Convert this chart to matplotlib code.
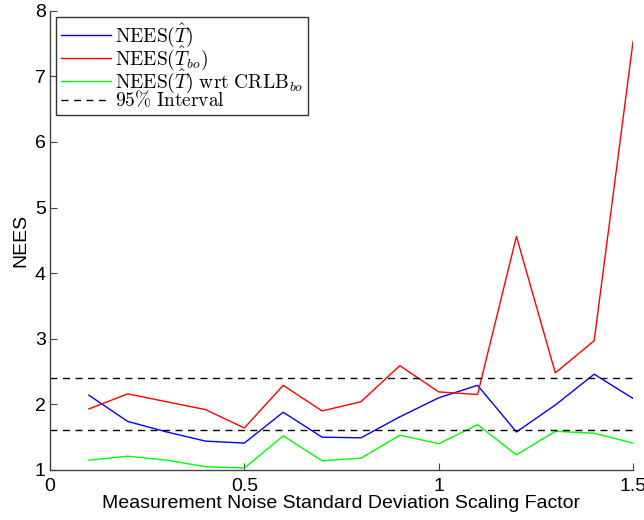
#!/usr/bin/env python3
"""NEES vs measurement noise scaling factor, with 95% interval bounds."""

import matplotlib
matplotlib.use("Agg")
import matplotlib.pyplot as plt

scale = [0.1, 0.2, 0.3, 0.4, 0.5, 0.6, 0.7, 0.8, 0.9, 1.0, 1.1, 1.2, 1.3, 1.4, 1.5]
nees_t = [2.14, 1.74, 1.58, 1.44, 1.41, 1.88, 1.50, 1.49, 1.81, 2.10, 2.29, 1.58, 1.99, 2.46, 2.09]
nees_tbo = [1.93, 2.16, 2.04, 1.92, 1.64, 2.29, 1.90, 2.04, 2.59, 2.19, 2.15, 4.56, 2.48, 2.97, 7.53]
nees_t_crlb = [1.15, 1.21, 1.15, 1.05, 1.03, 1.52, 1.14, 1.18, 1.53, 1.40, 1.69, 1.23, 1.59, 1.56, 1.41]
interval = [1.61, 2.40]

plt.rcParams["mathtext.fontset"] = "cm"
plt.rcParams["font.family"] = ["Liberation Sans", "DejaVu Sans"]

fig = plt.figure(figsize=(6.44, 5.2), dpi=100)
ax = fig.add_axes([0.0776, 0.0962, 0.9054, 0.8832])

ax.plot(scale, nees_t, color="#0000ff", lw=1.0, label=r"$\mathrm{NEES}(\hat{T})$")
ax.plot(scale, nees_tbo, color="#ff0000", lw=1.0, label=r"$\mathrm{NEES}(\hat{T}_{bo})$")
ax.plot(scale, nees_t_crlb, color="#00ff00", lw=1.0,
        label=r"$\mathrm{NEES}(\hat{T})\ \mathrm{wrt\ CRLB}_{bo}$")
ax.axhline(interval[0], color="black", lw=1.0, ls=(0, (5, 4)), label=r"$\mathrm{95\%\ Interval}$")
ax.axhline(interval[1], color="black", lw=1.0, ls=(0, (5, 4)))

ax.set_xlim(0, 1.5)
ax.set_ylim(1, 8)
ax.set_xticks([0, 0.5, 1, 1.5])
ax.set_xticklabels(["0", "0.5", "1", "1.5"])
ax.set_yticks(range(1, 9))
ax.tick_params(direction="in", length=5, width=0.8, color="#444444", labelsize=14)
ax.tick_params(axis="x", pad=6)
ax.tick_params(axis="y", pad=3)
for side in ("top", "right"):
    ax.spines[side].set_visible(False)
for side in ("left", "bottom"):
    ax.spines[side].set_color("#444444")
    ax.spines[side].set_linewidth(1.0)

ax.set_xlabel("Measurement Noise Standard Deviation Scaling Factor", fontsize=14, labelpad=0)
ax.set_ylabel("NEES", fontsize=14, labelpad=4)

leg = ax.legend(loc="upper left", fontsize=14, frameon=True, fancybox=False,
                borderaxespad=0.3, handlelength=2.6, handletextpad=0.2,
                labelspacing=-0.25, borderpad=0.25)
leg.get_frame().set_edgecolor("black")
leg.get_frame().set_linewidth(1.0)

fig.savefig("out.png", dpi=100)
